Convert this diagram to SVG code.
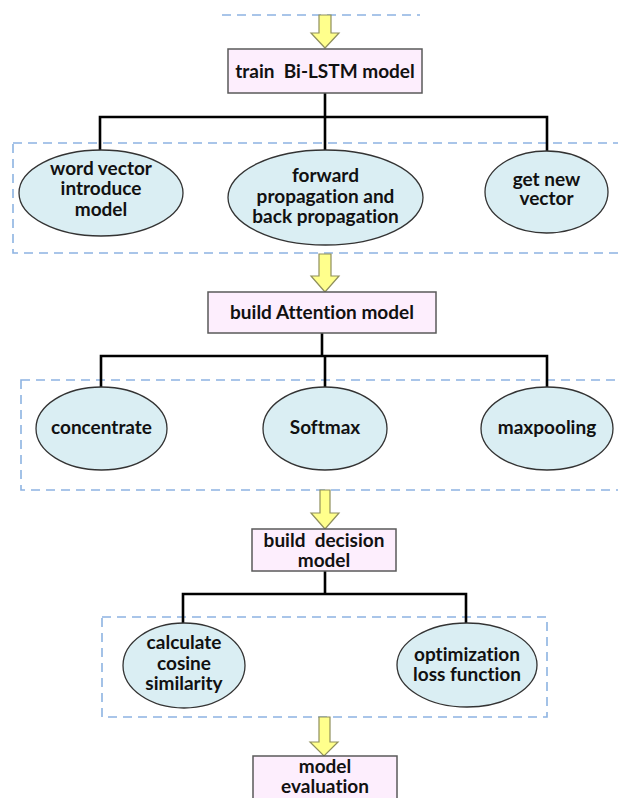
<svg xmlns="http://www.w3.org/2000/svg" width="618" height="798" viewBox="0 0 618 798">
<style>
.bg{fill:#ffffff}
.dash{fill:none;stroke:#8db3e2;stroke-width:1.6;stroke-dasharray:9 6}
.box{fill:#fdeefd;stroke:#5a5a5a;stroke-width:1.5}
.ell{fill:#daeef3;stroke:#333333;stroke-width:1.3}
.conn{fill:none;stroke:#000000;stroke-width:2.6}
.arrow{fill:#ffff8c;stroke:#8f8f5c;stroke-width:1.2}
text{font-family:Lato,"Open Sans","Liberation Sans",sans-serif;font-weight:bold;font-size:19px;fill:#111111;text-anchor:middle;white-space:pre;font-variant-ligatures:none}
</style>
<rect class="bg" x="0" y="0" width="618" height="798"/>

<g id="groups">
  <line class="dash" x1="222" y1="15" x2="420" y2="15"/>
  <rect id="group1" class="dash" x="13" y="143" width="630" height="110"/>
  <rect id="group2" class="dash" x="21" y="380" width="622" height="110"/>
  <rect id="group3" class="dash" x="102" y="617" width="445" height="100"/>
</g>

<g id="connectors">
  <polygon class="arrow" points="319,15 331,15 331,33 339,33 325,48 311,33 319,33"/>
  <polygon class="arrow" points="319,254 331,254 331,276 339,276 325,292 311,276 319,276"/>
  <polygon class="arrow" points="320,490 330,490 330,513 339,513 325,529 311,513 320,513"/>
  <polygon class="arrow" points="319,717 330,717 330,742 338,742 324,756 310,742 319,742"/>
  <path class="conn" d="M325,93 V117 M100,150 V117 H547 V151 M325,117 V150"/>
  <path class="conn" d="M322,333 V356 M101,387 V356 H547 V387 M325,356 V387"/>
  <path class="conn" d="M325,571 V594 M183,623 V594 H466 V623"/>
</g>

<g id="train">
  <rect class="box" x="228" y="49" width="194" height="44"/>
  <text x="325" y="78">train  Bi-LSTM model</text>
</g>
<g id="wordvector">
  <ellipse class="ell" cx="101" cy="193" rx="82" ry="43"/>
  <text x="101" y="175">word vector</text>
  <text x="101" y="195">introduce</text>
  <text x="101" y="216">model</text>
</g>
<g id="propagation">
  <ellipse class="ell" cx="325.5" cy="197.5" rx="97.5" ry="47.5"/>
  <text x="325.5" y="182">forward</text>
  <text x="325.5" y="203">propagation and</text>
  <text x="325.5" y="223">back propagation</text>
</g>
<g id="getnew">
  <ellipse class="ell" cx="546.5" cy="192" rx="61.5" ry="41"/>
  <text x="546.5" y="186">get new</text>
  <text x="546.5" y="205">vector</text>
</g>

<g id="attention">
  <rect class="box" x="208" y="292" width="228" height="41"/>
  <text x="322" y="319">build Attention model</text>
</g>
<g id="concentrate">
  <ellipse class="ell" cx="101.5" cy="428.5" rx="65.5" ry="41.5"/>
  <text x="101.5" y="434">concentrate</text>
</g>
<g id="softmax">
  <ellipse class="ell" cx="325" cy="428.5" rx="62" ry="41.5"/>
  <text x="325" y="434">Softmax</text>
</g>
<g id="maxpooling">
  <ellipse class="ell" cx="547" cy="428.5" rx="66" ry="41.5"/>
  <text x="547" y="434">maxpooling</text>
</g>

<g id="decision">
  <rect class="box" x="252" y="529" width="144" height="42"/>
  <text x="324" y="547">build  decision</text>
  <text x="324" y="567">model</text>
</g>
<g id="cosine">
  <ellipse class="ell" cx="184" cy="665.5" rx="61" ry="42.5"/>
  <text x="184" y="649">calculate</text>
  <text x="184" y="670">cosine</text>
  <text x="184" y="690">similarity</text>
</g>
<g id="optimization">
  <ellipse class="ell" cx="467" cy="665" rx="70" ry="42"/>
  <text x="467" y="661">optimization</text>
  <text x="467" y="681">loss function</text>
</g>

<g id="evaluation">
  <rect class="box" x="253" y="756" width="144" height="50"/>
  <text x="325" y="773">model</text>
  <text x="325" y="793">evaluation</text>
</g>
</svg>
